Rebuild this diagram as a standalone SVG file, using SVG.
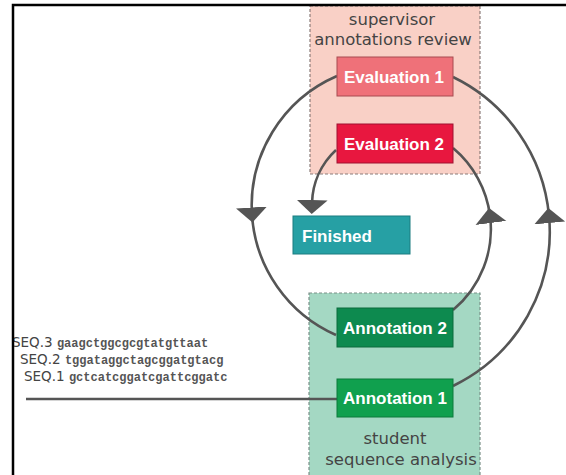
<svg xmlns="http://www.w3.org/2000/svg" width="566" height="475" viewBox="0 0 566 475">
<style>
.region-label{font-family:"DejaVu Sans",sans-serif;font-size:16.5px;fill:#444;text-anchor:middle}
.node-label{font-family:"Liberation Sans",Arial,sans-serif;font-weight:bold;font-size:17px;fill:#fff;text-anchor:middle}
.conn{fill:none;stroke:#555;stroke-width:2.6}
.seq-name{font-family:"DejaVu Sans",sans-serif;font-size:13.5px;fill:#444}
.seq{font-family:"Liberation Mono","Courier New",monospace;font-weight:bold;font-size:12px;fill:#555}
</style>
<defs>
<marker id="arrMid" markerUnits="userSpaceOnUse" markerWidth="18" markerHeight="34" viewBox="0 -17 18 34" refX="7.5" refY="0" orient="auto">
<path d="M0,-15.5 L15,0 L0,15.5 z" fill="#555"/>
</marker>
<marker id="arrEnd" markerUnits="userSpaceOnUse" markerWidth="18" markerHeight="34" viewBox="0 -17 18 34" refX="3" refY="0" orient="auto">
<path d="M0,-15.5 L14,0 L0,15.5 z" fill="#555"/>
</marker>
</defs>
<rect width="566" height="475" fill="#fff"/>
<g id="region-supervisor">
<rect x="310" y="6" width="170" height="168" fill="#f9d0c6" stroke="#8c7c7a" stroke-width="1.2" stroke-dasharray="3,2"/>
<text class="region-label" x="392" y="25">supervisor</text>
<text class="region-label" x="393" y="45">annotations review</text>
</g>
<g id="region-student">
<rect x="309" y="293" width="171" height="190" fill="#a4d8c3" stroke="#7a8f88" stroke-width="1.2" stroke-dasharray="3,2"/>
<text class="region-label" x="395" y="444">student</text>
<text class="region-label" x="401" y="465">sequence analysis</text>
</g>
<g id="sequences">
<text class="seq-name" x="12" y="347">SEQ.3 <tspan class="seq">gaagctggcgcgtatgttaat</tspan></text>
<text class="seq-name" x="20" y="364">SEQ.2 <tspan class="seq">tggataggctagcggatgtacg</tspan></text>
<text class="seq-name" x="24" y="381">SEQ.1 <tspan class="seq">gctcatcggatcgattcggatc</tspan></text>
</g>
<g id="connectors">
<path class="conn" d="M26,399 L337,399"/>
<path class="conn" marker-mid="url(#arrMid)" d="M337,76 A141.3,141.3 0 0 0 252,215 A141.3,141.3 0 0 0 336,335"/>
<path class="conn" marker-end="url(#arrEnd)" d="M336,150 A75,75 0 0 0 312,203"/>
<path class="conn" marker-mid="url(#arrMid)" d="M453,310 A105.4,105.4 0 0 0 490,215.5 A105.4,105.4 0 0 0 453,148"/>
<path class="conn" marker-mid="url(#arrMid)" d="M453,386 A171.7,171.7 0 0 0 549,215.5 A171.7,171.7 0 0 0 453,77"/>
</g>
<g id="node-evaluation1">
<rect x="337" y="57" width="116" height="39" fill="#ef7179" stroke="#a84b50" stroke-width="1"/>
<text class="node-label" x="394" y="82.5">Evaluation 1</text>
</g>
<g id="node-evaluation2">
<rect x="337" y="124" width="116" height="39" fill="#e8173f" stroke="#a01030" stroke-width="1"/>
<text class="node-label" x="394" y="150">Evaluation 2</text>
</g>
<g id="node-finished">
<rect x="293" y="216" width="117" height="38" fill="#26a0a4" stroke="#1b7d80" stroke-width="1"/>
<text class="node-label" x="302" y="242" style="text-anchor:start">Finished</text>
</g>
<g id="node-annotation2">
<rect x="337" y="308" width="116" height="39" fill="#0d8a4f" stroke="#0a6a3c" stroke-width="1"/>
<text class="node-label" x="395" y="334">Annotation 2</text>
</g>
<g id="node-annotation1">
<rect x="337" y="379" width="116" height="38" fill="#10a04e" stroke="#0a7a3a" stroke-width="1"/>
<text class="node-label" x="395" y="404">Annotation 1</text>
</g>
<g id="frame">
<path d="M13,475 L13,5 L566,5" fill="none" stroke="#000" stroke-width="2.5"/>
</g>
</svg>
